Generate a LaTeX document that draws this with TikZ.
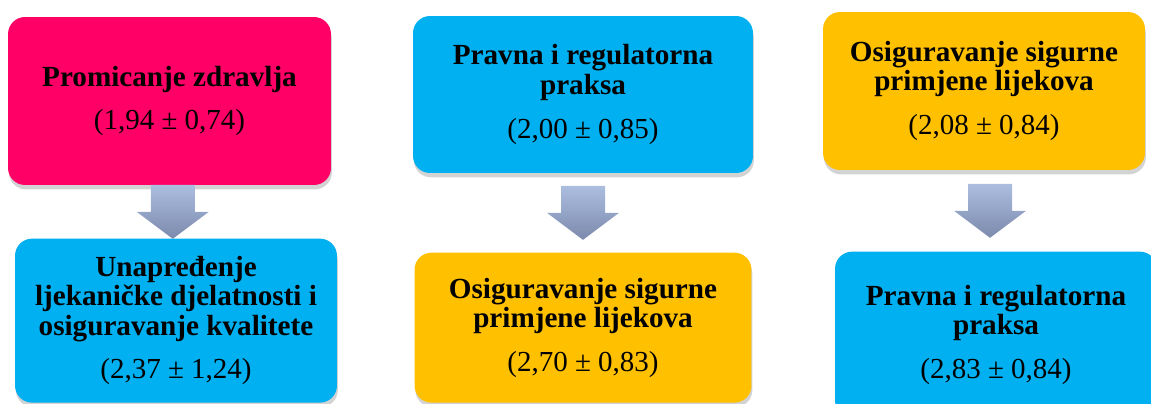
\documentclass[tikz,border=0pt]{standalone}
\usepackage{fontspec}
\setmainfont{Liberation Serif}
\usetikzlibrary{positioning,calc,shadows}

\definecolor{rosebox}{RGB}{255,0,102}
\definecolor{skybox}{RGB}{0,176,240}
\definecolor{goldbox}{RGB}{255,192,0}
\definecolor{arrtop}{RGB}{172,190,224}
\definecolor{arrbot}{RGB}{124,138,172}

\newcommand{\msd}[2]{\\[8pt]{\mdseries\fontsize{16.5}{17}\selectfont(#1 ± #2)}}

\begin{document}
\begin{tikzpicture}[
  x=0.02cm, y=-0.02cm,
  card/.style={rounded corners=0.34cm, align=center, inner sep=2pt,
    font=\bfseries\fontsize{16.6}{16.8}\selectfont,
    drop shadow={shadow xshift=0.5pt, shadow yshift=-2.5pt, opacity=0.35}},
  rose/.style={card, fill=rosebox},
  sky/.style={card, fill=skybox},
  gold/.style={card, fill=goldbox},
  blockarr/.style={top color=arrtop, bottom color=arrbot, draw=none}
]
\useasboundingbox (0,0) rectangle (1151,404);
\clip (0,0) rectangle (1151,404);

% top row
\node[rose, minimum width=6.46cm, minimum height=3.36cm] (prom) at (169.5,101) {Promicanje zdravlja\msd{1,94}{0,74}};
\node[sky, minimum width=6.8cm, minimum height=3.14cm] (prav) at (583,94.5) {Pravna i regulatorna\\praksa\msd{2,00}{0,85}};
\node[gold, minimum width=6.44cm, minimum height=3.16cm] (sig) at (984,91) {Osiguravanje sigurne\\primjene lijekova\msd{2,08}{0,84}};

% bottom row
\node[sky, minimum width=6.44cm, minimum height=3.28cm, below=1.06cm of prom, xshift=0.13cm] (unap) {Unapređenje\\ljekaničke djelatnosti i\\osiguravanje kvalitete\msd{2,37}{1,24}};
\node[gold, minimum width=6.74cm, minimum height=3.0cm, below=1.58cm of prav] (osig) {Osiguravanje sigurne\\primjene lijekova\msd{2,70}{0,83}};
\node[sky, minimum width=6.44cm, minimum height=3.32cm, below=1.62cm of sig, xshift=0.24cm] (prav2) {Pravna i regulatorna\\praksa\msd{2,83}{0,84}};

% block arrows
\foreach \u/\l in {prom/unap, prav/osig, sig/prav2}
{
  \coordinate (mid) at ($(\u.south)!0.5!(\l.north)$);
  \shade[blockarr] ($(mid)+(-22,-27)$) -- ($(mid)+(22,-27)$) -- ($(mid)+(22,0)$)
    -- ($(mid)+(36,0)$) -- ($(mid)+(0,27)$) -- ($(mid)+(-36,0)$) -- ($(mid)+(-22,0)$) -- cycle;
}
\end{tikzpicture}
\end{document}
